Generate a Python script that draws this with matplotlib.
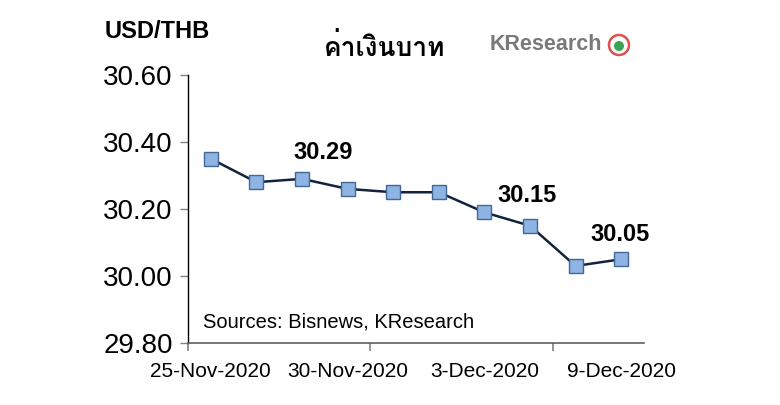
import matplotlib
matplotlib.use("Agg")
import matplotlib.pyplot as plt
from matplotlib import font_manager
from matplotlib.ft2font import FT2Font
from matplotlib.patches import Ellipse

dates = ["25-Nov-2020", "26-Nov-2020", "27-Nov-2020", "30-Nov-2020", "1-Dec-2020",
         "2-Dec-2020", "3-Dec-2020", "4-Dec-2020", "8-Dec-2020", "9-Dec-2020"]
rates = [30.35, 30.28, 30.29, 30.26, 30.25, 30.25, 30.19, 30.15, 30.03, 30.05]
label_idx = [2, 7, 9]
yticks = [29.80, 30.00, 30.20, 30.40, 30.60]
shown_labels = [0, 3, 6, 9]

# find a font with Thai glyphs
thai_family = None
for f in font_manager.fontManager.ttflist:
    try:
        cm = FT2Font(f.fname).get_charmap()
        if ord("ค") in cm and ord("่") in cm:
            thai_family = f.name
            if "Sans" in f.name or "Loma" in f.name:
                break
    except Exception:
        pass
fam = "Liberation Sans"
thai_fams = [thai_family, "DejaVu Sans"] if thai_family else ["DejaVu Sans"]

fig = plt.figure(figsize=(7.8, 4.05), dpi=100)
ax = fig.add_axes([188/780, 1-343/405, (644-188)/780, (343-75)/405])

x = list(range(len(rates)))
ax.plot(x, rates, color="#14233d", lw=1.8, marker="s", ms=9.5,
        mfc="#8db4e2", mec="#44679a", mew=1.0, zorder=3)

ax.set_xlim(-0.5, len(rates) - 0.5)
ax.set_ylim(29.80, 30.60)
ax.set_yticks(yticks)
ax.set_yticklabels([f"{v:.2f}" for v in yticks], fontsize=20, family=fam)
ax.tick_params(axis="y", length=6, color="#808080", pad=5, width=1)

ax.set_xticks([-0.5, 3.5, 7.5])
ax.set_xticklabels([])
ax.set_xticks(shown_labels, minor=True)
ax.set_xticklabels([dates[i] for i in shown_labels], minor=True, fontsize=15, family=fam)
ax.tick_params(axis="x", which="major", length=6, color="#808080", width=1.2)
ax.tick_params(axis="x", which="minor", length=0, pad=14)

for s in ["top", "right"]:
    ax.spines[s].set_visible(False)
ax.spines["left"].set_color("#000000")
ax.spines["left"].set_linewidth(1.0)
ax.spines["bottom"].set_color("#606060")
ax.spines["bottom"].set_linewidth(1.2)

offsets = {2: (21, 26), 7: (-3, 30), 9: (-1, 25)}
for i in label_idx:
    dx, dy = offsets[i]
    ax.annotate(f"{rates[i]:.2f}", (i, rates[i]), xytext=(dx, dy), textcoords="offset pixels",
                ha="center", va="center", fontsize=17, fontweight="bold", family=fam)

ax.text(203/780, 1-322/405, "Sources: Bisnews, KResearch", transform=fig.transFigure,
        fontsize=14.5, family=fam, va="center", ha="left")

fig.text(105/780, 1-31/405, "USD/THB", fontsize=17, fontweight="bold", family=fam,
         va="center", ha="left")
fig.text(385/780, 1-47/405, "ค่าเงินบาท", fontsize=19, fontweight="bold", family=thai_fams,
         va="center", ha="center")

# logo
fig.text(490/780, 1-45/405, "KResearch", fontsize=15.5, fontweight="bold", family=fam,
         color="#7a7a7a", va="center", ha="left")
ring = Ellipse((619/780, 1-45/405), 20/780, 20/405, transform=fig.transFigure, fill=False,
               ec="#d9534f", lw=1.8)
fig.patches.append(ring)
leaf = Ellipse((619/780, 1-46/405), 10/780, 10/405, transform=fig.transFigure,
               fc="#3aa655", ec="none")
fig.patches.append(leaf)

fig.savefig("out.png", dpi=100)
